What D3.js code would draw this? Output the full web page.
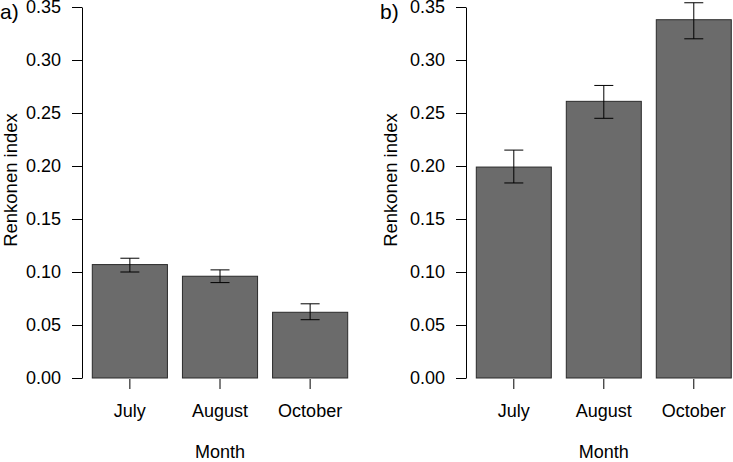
<!DOCTYPE html>
<html>
<head>
<meta charset="utf-8">
<script src="https://cdn.jsdelivr.net/npm/d3@7"></script>
<style>
  body { margin: 0; background: #fff; }
  svg { display: block; }
  text { font-family: "Liberation Sans", Arial, sans-serif; fill: #000; }
</style>
</head>
<body>
<svg id="chart" width="733" height="462"></svg>
<script>
const months = ["July", "August", "October"];
const yTicks = [0, 0.05, 0.10, 0.15, 0.20, 0.25, 0.30, 0.35];
const panelLabels = ["a)", "b)"];
const valuesA = [0.107, 0.096, 0.062];
const lowerA  = [0.100, 0.090, 0.055];
const upperA  = [0.113, 0.102, 0.070];
const valuesB = [0.199, 0.261, 0.338];
const lowerB  = [0.184, 0.245, 0.320];
const upperB  = [0.215, 0.276, 0.354];
const xTitle = "Month";
const yTitle = "Renkonen index";

const svg = d3.select("#chart");

const panels = [
  { label: panelLabels[0], values: valuesA, lower: lowerA, upper: upperA, axisX: 82, barRange: [92.3, 347.7], labelX: 0, titleX: 17 },
  { label: panelLabels[1], values: valuesB, lower: lowerB, upper: upperB, axisX: 466, barRange: [476.3, 731.3], labelX: 380, titleX: 397 }
];

const y = d3.scaleLinear().domain([0, 0.35]).range([378, 7]);

panels.forEach(p => {
  const g = svg.append("g");
  const x = d3.scaleBand().domain(months).range(p.barRange).paddingInner(0.1665).paddingOuter(0);

  // bars
  g.selectAll("rect.bar").data(months).enter().append("rect")
    .attr("class", "bar")
    .attr("x", d => x(d))
    .attr("width", x.bandwidth())
    .attr("y", (d, i) => y(p.values[i]))
    .attr("height", (d, i) => y(0) - y(p.values[i]))
    .attr("fill", "#6b6b6b")
    .attr("stroke", "#2b2b2b")
    .attr("stroke-width", 1);

  // error bars
  const capHalf = 9.5;
  months.forEach((m, i) => {
    const cx = x(m) + x.bandwidth() / 2;
    g.append("line").attr("x1", cx).attr("x2", cx)
      .attr("y1", y(p.lower[i])).attr("y2", y(p.upper[i]))
      .attr("stroke", "#000").attr("stroke-width", 1);
    [p.lower[i], p.upper[i]].forEach(v => {
      g.append("line").attr("x1", cx - capHalf).attr("x2", cx + capHalf)
        .attr("y1", y(v)).attr("y2", y(v))
        .attr("stroke", "#000").attr("stroke-width", 1);
    });
  });

  // y axis
  const yAxis = d3.axisLeft(y).tickValues(yTicks).tickFormat(d3.format(".2f"))
    .tickSize(10).tickSizeOuter(0).tickPadding(11);
  const ya = g.append("g").attr("transform", `translate(${p.axisX},0)`).call(yAxis);
  ya.selectAll("text").style("font-size", "18px").attr("fill", "#000");
  ya.selectAll("line, path").attr("stroke", "#000");

  // x axis
  const xAxis = d3.axisBottom(x).tickSize(10).tickPadding(15);
  const xa = g.append("g").attr("transform", "translate(0,379)").call(xAxis);
  xa.select(".domain").remove();
  xa.selectAll("text").style("font-size", "18px").attr("fill", "#000");
  xa.selectAll("line").attr("stroke", "#000");

  // titles
  const cxMid = (p.barRange[0] + p.barRange[1]) / 2;
  g.append("text").attr("x", cxMid).attr("y", 458)
    .attr("text-anchor", "middle").style("font-size", "18px").text(xTitle);
  g.append("text").attr("transform", `translate(${p.titleX},180) rotate(-90)`)
    .attr("text-anchor", "middle").style("font-size", "18.5px").text(yTitle);
  g.append("text").attr("x", p.labelX).attr("y", 19)
    .style("font-size", "21px").text(p.label);
});
</script>
</body>
</html>
